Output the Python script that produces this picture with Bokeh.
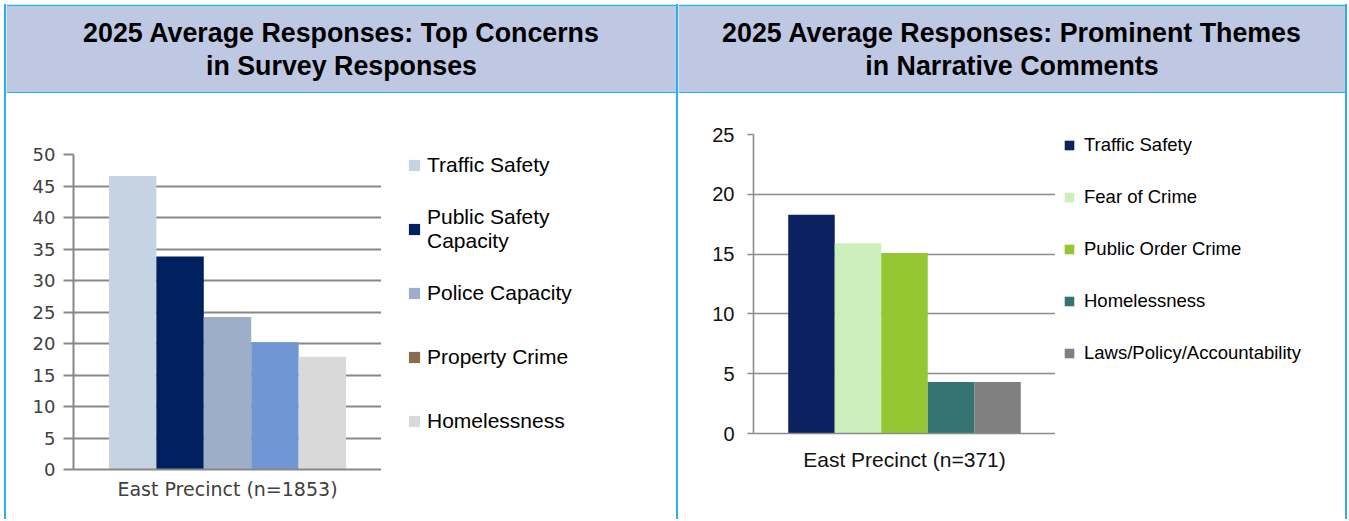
from bokeh.plotting import figure
from bokeh.models import (FactorRange, Range1d, Legend, LegendItem, SingleIntervalTicker,
                          ColumnDataSource, Spacer, Grid)
from bokeh.transform import dodge
from bokeh.layouts import row, column
from bokeh.core.properties import value
from bokeh.embed import file_html
from bokeh.resources import INLINE

# ---------------- data ----------------
left_title = "2025 Average Responses: Top Concerns\nin Survey Responses"
left_region = "East Precinct (n=1853)"
left_categories = ["Traffic Safety", "Public Safety\nCapacity", "Police Capacity", "Property Crime", "Homelessness"]
left_values = [46.6, 33.8, 24.2, 20.2, 17.9]
left_bar_colors = ["#C5D3E2", "#002060", "#9CAEC8", "#7097D3", "#D9D9D9"]
left_legend_colors = ["#C5D3E2", "#002060", "#9CAEC8", "#8B6B4E", "#D9D9D9"]
left_ymax = 50

right_title = "2025 Average Responses: Prominent Themes\nin Narrative Comments"
right_region = "East Precinct (n=371)"
right_categories = ["Traffic Safety", "Fear of Crime", "Public Order Crime", "Homelessness", "Laws/Policy/Accountability"]
right_values = [18.3, 15.9, 15.1, 4.3, 4.3]
right_bar_colors = ["#0B2160", "#CCEFBB", "#94C731", "#367472", "#808080"]
right_legend_colors = right_bar_colors
right_ymax = 25

# ---------------- style ----------------
BLUE = "#2BAEEA"
LAV = "#BFC8E2"
HDR_H = 89
BODY_H = 426
TOTAL_H = HDR_H + BODY_H
LEFT_W = 670
RIGHT_W = 667
BAR_W = 0.154


def vline():
    return Spacer(width=2, height=TOTAL_H, styles={"background-color": BLUE})


def strip(f):
    for g in f.select({"type": Grid}):
        g.visible = False
    f.outline_line_color = None
    f.outline_line_alpha = 0


def header(width, title):
    f = figure(width=width, height=HDR_H, x_range=(0, 1), y_range=(0, 1),
               min_border_left=0, min_border_right=0, min_border_top=2, min_border_bottom=2,
               border_fill_color=BLUE, background_fill_color=LAV, outline_line_color=None,
               x_axis_location=None, y_axis_location=None,
               toolbar_location=None, output_backend="svg")
    strip(f)
    f.text(x=[0.5], y=[0.5], text=[title], text_align="center", text_baseline="middle",
           text_font=value("Liberation Sans"), text_font_style="bold", text_font_size="26.8px",
           text_line_height=1.1, text_color="#000000")
    return f


def chart(region, cats, vals, bar_colors, ymax, cfg):
    p = figure(frame_width=cfg["fw"], frame_height=cfg["fh"],
               x_range=FactorRange(factors=[region], range_padding=0),
               y_range=Range1d(0, ymax),
               min_border_left=cfg["ml"], min_border_right=0,
               min_border_top=cfg["mt"], min_border_bottom=cfg["mb"],
               toolbar_location=None, output_backend="svg",
               outline_line_color=None, background_fill_color="white", border_fill_color="white")
    p.outline_line_alpha = 0
    n = len(cats)
    for i, (v, bc) in enumerate(zip(vals, bar_colors)):
        xpos = dodge("x", (i - (n - 1) / 2) * BAR_W, range=p.x_range)
        src = ColumnDataSource(dict(x=[region], top=[v]))
        p.vbar(x=xpos, top="top", width=BAR_W, source=src, fill_color=bc, line_color=None)

    p.xgrid.visible = False
    p.ygrid.grid_line_color = cfg["grid"]
    p.ygrid.grid_line_width = cfg["gw"]

    ya = p.yaxis[0]
    ya.ticker = SingleIntervalTicker(interval=5)
    ya.minor_tick_line_color = None
    ya.major_tick_in = 0
    ya.major_tick_out = cfg["tick_out"]
    ya.major_tick_line_color = cfg["grid"]
    ya.major_tick_line_width = cfg["gw"]
    ya.axis_line_color = cfg["grid"]
    ya.axis_line_width = cfg["gw"]
    ya.major_label_standoff = cfg["ystand"]
    ya.major_label_text_font = cfg["yfont"]
    ya.major_label_text_font_size = cfg["yfs"]
    ya.major_label_text_color = cfg["tcolor"]

    xa = p.xaxis[0]
    xa.major_tick_line_color = None
    xa.minor_tick_line_color = None
    xa.major_tick_out = 0
    xa.axis_line_color = cfg["grid"]
    xa.axis_line_width = cfg["gw"]
    xa.major_label_standoff = cfg["xstand"]
    xa.major_label_text_font = cfg["yfont"]
    xa.major_label_text_font_size = cfg["xfs"]
    xa.major_label_text_color = cfg["tcolor"]
    return p


def legend_fig(width, cats, vals, legend_colors, cfg):
    # separate panel holding the legend (keeps the chart frame at its own width)
    f = figure(width=width, height=BODY_H, x_range=Range1d(-1001, -1000), y_range=Range1d(-2, -1),
               min_border=0, x_axis_location=None, y_axis_location=None,
               toolbar_location=None, output_backend="svg", outline_line_color=None,
               background_fill_color="white", border_fill_color="white")
    strip(f)
    items = []
    for i, (c, v, lc) in enumerate(zip(cats, vals, legend_colors)):
        src = ColumnDataSource(dict(x=[i], top=[v]))
        r = f.vbar(x="x", top="top", width=0.8, source=src, fill_color=lc, line_color=None)
        items.append(LegendItem(label=c, renderers=[r]))
    leg = Legend(items=items, location=cfg["loc"], orientation="vertical",
                 label_text_font="Liberation Sans", label_text_font_size=cfg["lfs"],
                 label_text_color="#000000", glyph_width=cfg["gwid"], glyph_height=cfg["gwid"],
                 label_height=cfg["lh"], label_standoff=cfg["lstand"], spacing=cfg["sp"],
                 padding=0, margin=0, border_line_color=None, background_fill_alpha=0,
                 label_text_line_height=1.28)
    f.add_layout(leg)
    return f


left_cfg = dict(fw=308, fh=315, ml=67, mt=61, mb=50, grid="#878787", gw=2, tick_out=10, ystand=8,
                yfont="DejaVu Sans", yfs="18px", xfs="19px", xstand=8, tcolor="#404040",
                loc=(26, 73), lfs="21px", gwid=14, lh=50, lstand=6, sp=14)
right_cfg = dict(fw=302, fh=299, ml=75, mt=41, mb=86, grid="#8C8C8C", gw=1.6, tick_out=6, ystand=13,
                 yfont="Liberation Sans", yfs="20px", xfs="21px", xstand=14, tcolor="#111111",
                 loc=(8, 155), lfs="18.5px", gwid=12, lh=21, lstand=9, sp=30)

hdrL = header(LEFT_W, left_title)
hdrR = header(RIGHT_W, right_title)
chL = chart(left_region, left_categories, left_values, left_bar_colors, left_ymax, left_cfg)
chR = chart(right_region, right_categories, right_values, right_bar_colors, right_ymax, right_cfg)
lgL = legend_fig(LEFT_W - left_cfg["ml"] - left_cfg["fw"], left_categories, left_values,
                 left_legend_colors, left_cfg)
lgR = legend_fig(RIGHT_W - right_cfg["ml"] - right_cfg["fw"], right_categories, right_values,
                 right_legend_colors, right_cfg)

colL = column(row(hdrL), row(column(chL), column(lgL), spacing=0), spacing=0)
colR = column(row(hdrR), row(column(chR), column(lgR), spacing=0), spacing=0)
main = row(Spacer(width=4, height=TOTAL_H), vline(), colL, vline(), colR, vline(), spacing=0)
layout = column(Spacer(width=10, height=4), main, spacing=0)

open("out.html", "w").write(file_html(layout, INLINE))
